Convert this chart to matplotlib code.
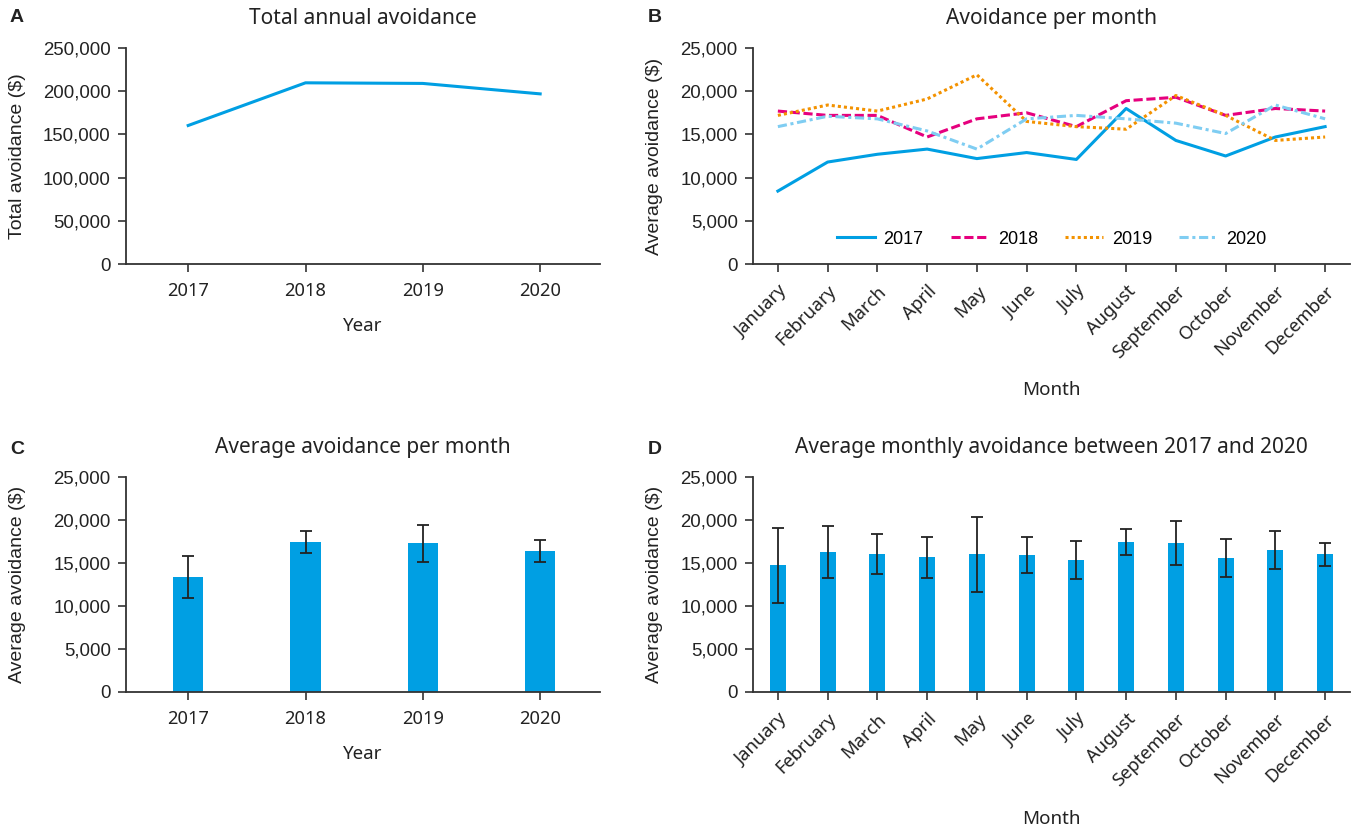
import matplotlib
matplotlib.use("Agg")
import matplotlib.pyplot as plt
import numpy as np
from matplotlib.ticker import FuncFormatter

years = ["2017", "2018", "2019", "2020"]
annual_total = [160300, 209700, 209000, 196900]

months = ["January", "February", "March", "April", "May", "June", "July",
          "August", "September", "October", "November", "December"]
m2017 = [8440, 11800, 12700, 13300, 12200, 12900, 12100, 18000, 14300, 12500, 14700, 15900]
m2018 = [17700, 17200, 17200, 14700, 16800, 17500, 15900, 18900, 19300, 17200, 18000, 17700]
m2019 = [17200, 18400, 17700, 19100, 21900, 16500, 15900, 15600, 19500, 17200, 14300, 14700]
m2020 = [15900, 17100, 16800, 15400, 13300, 16800, 17200, 16800, 16300, 15100, 18400, 16800]

year_mean = [13330, 17430, 17310, 16370]
year_err = [2430, 1280, 2150, 1270]

month_mean = [14740, 16260, 16020, 15670, 16020, 15910, 15320, 17430, 17310, 15560, 16490, 16020]
month_err = [4350, 3040, 2340, 2380, 4350, 2070, 2200, 1500, 2530, 2200, 2220, 1330]

BLUE = "#009FE3"
MAG = "#E6007E"
ORA = "#F39200"
LBLUE = "#7FCDF2"
AX = "#333333"

SANS = ["Noto Sans", "DejaVu Sans"]
ARIAL = ["Liberation Sans", "DejaVu Sans"]
plt.rcParams["font.family"] = ARIAL

fig = plt.figure(figsize=(13.58, 8.31), dpi=100)
W, H = 1358, 831

def add_ax(l, t, r, b):
    return fig.add_axes([l / W, 1 - b / H, (r - l) / W, (b - t) / H])

fmt = FuncFormatter(lambda v, p: f"{int(v):,}")

def style(ax, ylabel, xlabel, title, xlabels, rot, ylab_x):
    for s in ["top", "right"]:
        ax.spines[s].set_visible(False)
    for s in ["left", "bottom"]:
        ax.spines[s].set_color(AX)
        ax.spines[s].set_linewidth(1.3)
    ax.tick_params(axis="both", direction="out", length=6, width=1.2, color=AX)
    ax.tick_params(axis="y", labelsize=13.4, labelcolor="#222222", pad=5)
    ax.tick_params(axis="x", labelsize=13.2, labelcolor="#222222", pad=7)
    ax.yaxis.set_major_formatter(fmt)
    ax.set_xticks(np.arange(len(xlabels)))
    if rot:
        ax.set_xticklabels(xlabels, rotation=45, ha="right", rotation_mode="anchor",
                           fontfamily=SANS)
    else:
        ax.set_xticklabels(xlabels, fontfamily=SANS)
    ax.set_ylabel(ylabel, family=ARIAL, fontsize=14, color="#222222")
    ax.yaxis.set_label_coords(ylab_x, 0.5)
    ax.set_xlabel(xlabel, family=SANS, fontsize=13.5, color="#222222")
    ax.set_title(title, family=SANS, fontsize=15, color="#222222", pad=17)

# Panel A
axA = add_ax(126, 48, 600, 264)
xA = np.arange(len(years))
axA.plot(xA, annual_total, color=BLUE, lw=2.2)
axA.set_xlim(-0.53, 3.51)
axA.set_ylim(0, 250000)
axA.set_yticks(np.arange(0, 250001, 50000))
style(axA, "Total avoidance ($)", "Year", "Total annual avoidance", years, False,
      (26 - 126) / 474)
axA.xaxis.labelpad = 12

# Panel B
axB = add_ax(753, 48, 1350, 264)
xM = np.arange(len(months))
axB.plot(xM, m2017, color=BLUE, lw=2.2, ls="-", label="2017")
axB.plot(xM, m2018, color=MAG, lw=2.2, ls=(0, (3, 1.2)), label="2018")
axB.plot(xM, m2019, color=ORA, lw=2.2, ls=(0, (1, 1)), label="2019")
axB.plot(xM, m2020, color=LBLUE, lw=2.2, ls=(0, (3, 1.2, 1, 1.2)), label="2020")
axB.set_xlim(-0.5, 11.5)
axB.set_ylim(0, 25000)
axB.set_yticks(np.arange(0, 25001, 5000))
style(axB, "Average avoidance ($)", "Month", "Avoidance per month", months, True,
      (663 - 753) / 597)
axB.xaxis.labelpad = 14
leg = axB.legend(loc="lower center", bbox_to_anchor=(0.5, 0.0), ncol=4, frameon=False,
                 prop={"family": ARIAL, "size": 13}, handlelength=2.1,
                 columnspacing=1.5, handletextpad=0.5)

# Panel C
axC = add_ax(126, 477, 600, 692)
axC.bar(xA, year_mean, width=0.26, color=BLUE, yerr=year_err,
        error_kw=dict(ecolor="#222222", elinewidth=1.3, capsize=4.5, capthick=1.3))
axC.set_xlim(-0.53, 3.51)
axC.set_ylim(0, 25000)
axC.set_yticks(np.arange(0, 25001, 5000))
style(axC, "Average avoidance ($)", "Year", "Average avoidance per month", years, False,
      (26 - 126) / 474)
axC.xaxis.labelpad = 12

# Panel D
axD = add_ax(753, 477, 1350, 692)
axD.bar(xM, month_mean, width=0.32, color=BLUE, yerr=month_err,
        error_kw=dict(ecolor="#222222", elinewidth=1.3, capsize=4.5, capthick=1.3))
axD.set_xlim(-0.5, 11.5)
axD.set_ylim(0, 25000)
axD.set_yticks(np.arange(0, 25001, 5000))
style(axD, "Average avoidance ($)", "Month", "Average monthly avoidance between 2017 and 2020",
      months, True, (663 - 753) / 597)
axD.xaxis.labelpad = 15

# panel letters
for letter, x, y in [("A", 10, 18), ("B", 648, 18), ("C", 10, 449), ("D", 648, 449)]:
    fig.text(x / W, 1 - y / H, letter, family=ARIAL, fontsize=14, fontweight="bold",
             color="#222222", va="center", ha="left")

fig.savefig("out.png", dpi=100)
